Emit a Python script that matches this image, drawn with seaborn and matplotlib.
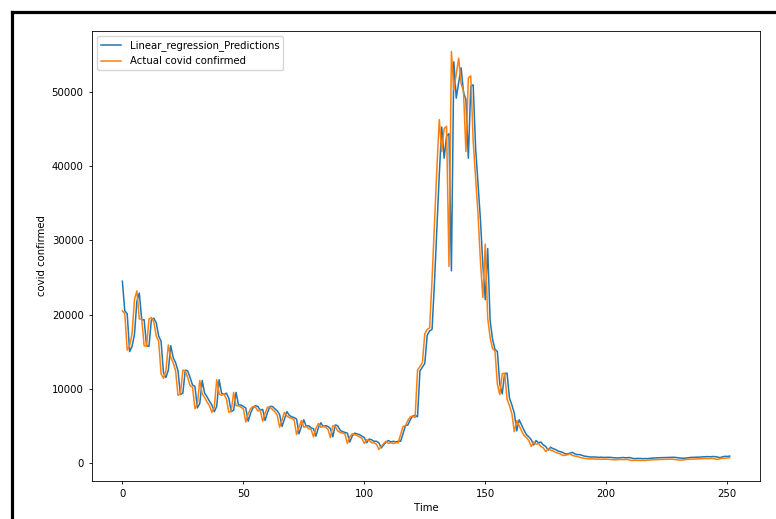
import numpy as np
import pandas as pd
import seaborn as sns
import matplotlib.pyplot as plt
from matplotlib.lines import Line2D

# daily confirmed cases (actual) and linear regression predictions
actual = [
    20500, 20100, 15200, 15800, 17400, 22000, 23200, 19400, 19400, 15800,
    15700, 19400, 19600, 19000, 17100, 16400, 12000, 11400, 12400, 15900,
    14200, 13500, 12400, 9100, 9300, 12500, 12400, 11500, 10400, 10200,
    7300, 7900, 11100, 9300, 8800, 8200, 7700, 6800, 7500, 11200,
    9300, 9100, 9300, 8600, 6800, 7000, 9500, 7700, 7700, 7500,
    7300, 5500, 6600, 7300, 7600, 7500, 7000, 7100, 5600, 6700,
    7500, 7500, 7200, 6900, 6400, 4800, 5800, 6800, 6300, 6100,
    6000, 5800, 3800, 4800, 5700, 4800, 4900, 4600, 4500, 3500,
    4600, 5300, 4800, 4900, 4800, 4500, 3400, 5000, 4900, 4300,
    4100, 4000, 3900, 2600, 3500, 3900, 3800, 3700, 3500, 3300,
    2600, 3100, 3000, 2700, 2700, 2500, 1800, 2200, 2600, 2900,
    2600, 2700, 2600, 2700, 2700, 3800, 4900, 5000, 5700, 6200,
    6300, 6100, 12500, 13000, 13500, 17400, 18000, 18200, 24700, 32200,
    39800, 46300, 42000, 45100, 45400, 26500, 55500, 50300, 52500, 54600,
    51200, 50100, 42000, 51900, 52200, 43400, 38400, 33500, 27200, 22300,
    29500, 19500, 16900, 15400, 15100, 10600, 9200, 12000, 12100, 8600,
    7700, 6600, 4200, 5700, 5000, 4300, 3700, 3400, 3000, 2200,
    2800, 2500, 2600, 2200, 2000, 1500, 1900, 1700, 1600, 1400,
    1300, 1200, 1000, 980, 1100, 1200, 1000, 900, 850, 750,
    650, 600, 560, 520, 530, 500, 480, 500, 470, 480,
    490, 470, 430, 420, 400, 430, 460, 420, 450, 440,
    330, 310, 340, 330, 300, 320, 310, 350, 380, 400,
    420, 430, 440, 440, 460, 470, 480, 490, 450, 420,
    380, 360, 400, 430, 470, 480, 500, 490, 520, 550,
    560, 580, 560, 590, 580, 520, 440, 550, 620, 600,
    650, 670,
]

predicted = [
    24500, 20500, 20100, 15000, 15700, 17300, 21800, 22900, 19300, 19300,
    15800, 15700, 19300, 19500, 18900, 17100, 16400, 12100, 11500, 12500,
    15800, 14200, 13500, 12400, 9200, 9400, 12500, 12400, 11500, 10500,
    10300, 7400, 8000, 11100, 9400, 8900, 8300, 7800, 6900, 7600,
    11200, 9400, 9200, 9400, 8700, 6900, 7100, 9500, 7800, 7800,
    7600, 7400, 5600, 6700, 7400, 7700, 7600, 7100, 7200, 5700,
    6800, 7600, 7600, 7300, 7000, 6500, 4900, 5900, 6900, 6400,
    6200, 6100, 5900, 3900, 4900, 5800, 4900, 5000, 4700, 4600,
    3600, 4700, 5400, 4900, 5000, 4900, 4600, 3500, 5100, 5000,
    4400, 4200, 4100, 4000, 2800, 3600, 4000, 3900, 3800, 3600,
    3400, 2700, 3200, 3100, 2900, 2900, 2700, 2000, 2400, 2800,
    3000, 2800, 2900, 2800, 2900, 2900, 3900, 5000, 5100, 5800,
    6300, 6400, 6200, 12400, 12900, 13400, 17200, 17800, 18000, 24300,
    31600, 39000, 45300, 41100, 44100, 44400, 25900, 54100, 49200, 51300,
    53300, 50000, 49000, 41100, 50800, 51000, 42500, 37600, 32800, 26700,
    22000, 28900, 19200, 16700, 15300, 15000, 10600, 9300, 12000, 12100,
    8700, 7800, 6700, 4300, 5800, 5100, 4400, 3800, 3500, 3100,
    2400, 3000, 2700, 2800, 2400, 2200, 1700, 2100, 1900, 1800,
    1600, 1500, 1400, 1200, 1200, 1300, 1400, 1200, 1100, 1100,
    1000, 900, 850, 800, 770, 780, 750, 730, 750, 720,
    730, 740, 720, 680, 670, 650, 680, 710, 670, 700,
    690, 580, 560, 590, 580, 550, 570, 560, 600, 630,
    650, 670, 680, 690, 690, 710, 720, 730, 740, 700,
    670, 630, 610, 650, 680, 720, 730, 750, 740, 770,
    800, 810, 830, 810, 840, 830, 770, 690, 800, 870,
    850, 900,
]

time = np.arange(len(actual))

plt.rcParams['font.family'] = ['DejaVu Sans']
plt.rcParams['font.size'] = 7.3

fig = plt.figure(figsize=(7.76, 5.19), dpi=100)
ax = fig.add_axes([92 / 776, 1 - 481 / 519, (760 - 92) / 776, (481 - 31) / 519])

sns.lineplot(x=time, y=predicted, ax=ax, color='#1f77b4', linewidth=1.1,
             label='Linear_regression_Predictions')
sns.lineplot(x=time, y=actual, ax=ax, color='#ff7f0e', linewidth=1.1,
             label='Actual covid confirmed')

ax.set_xlabel('Time', fontsize=7.3, labelpad=2.5)
ax.set_ylabel('covid confirmed', fontsize=7.3, labelpad=3.5)
ax.tick_params(labelsize=7.3, length=2.5, width=0.6)
for sp in ax.spines.values():
    sp.set_linewidth(0.6)
ax.legend(loc='upper left', fontsize=7.3, handlelength=2.0)

# black frame of the screenshot (top and left edges)
fig.add_artist(Line2D([11.5 / 776, 1], [1 - 12 / 519, 1 - 12 / 519],
                      transform=fig.transFigure, color='black', linewidth=2.3))
fig.add_artist(Line2D([11.5 / 776, 11.5 / 776], [0, 1 - 12 / 519],
                      transform=fig.transFigure, color='black', linewidth=2.3))

plt.savefig('out.png', dpi=100)
